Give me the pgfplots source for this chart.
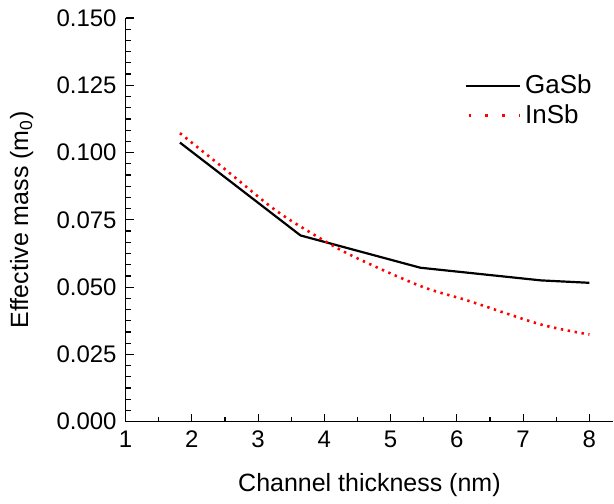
\documentclass[border=0pt]{standalone}
\usepackage{fontspec}
\setmainfont{Liberation Sans}
\usepackage{pgfplots}
\pgfplotsset{compat=1.18}
\begin{document}
\begin{tikzpicture}
\begin{axis}[
  scale only axis,
  width=244pt, height=202pt,
  xmin=1, xmax=8.36, ymin=0, ymax=0.15,
  axis x line*=bottom, axis y line*=left,
  axis line style={line width=0.75pt, -},
  xtick={1,2,...,8},
  ytick={0,0.025,...,0.151},
  minor x tick num=1,
  minor y tick num=5,
  tick align=inside,
  major tick length=4pt, minor tick length=2.5pt,
  tick style={line width=0.6pt, black},
  /pgf/number format/assume math mode=true,
  yticklabel style={xshift=-1pt, /pgf/number format/.cd, fixed, fixed zerofill, precision=3},
  ticklabel style={font=\fontsize{12}{14}\selectfont},
  label style={font=\fontsize{12.5}{15}\selectfont},
  xlabel={Channel thickness (nm)},
  ylabel={Effective mass (m\textsubscript{0})},
  xlabel style={at={(axis description cs:0.5,-0.157)}, anchor=center},
  ylabel style={at={(axis description cs:-0.213,0.5)}, anchor=center},
  xticklabel style={yshift=-1pt},
  legend style={draw=none, fill=none, at={(rel axis cs:0.69,0.875)}, anchor=north west,
    font=\fontsize{13}{15}\selectfont, row sep=0pt, inner sep=1pt},
  legend cell align=left,
]
\addplot[black, line width=1.1pt,
  legend image code/.code={\draw[black, line width=1.2pt] (0cm,0cm) -- (0.95cm,0cm);}]
  coordinates {(1.82,0.1037) (3.64,0.0692) (5.45,0.0572) (7.27,0.0525) (8.0,0.0516)};
\addlegendentry{GaSb}
\addplot[red, line width=1.3pt, dash pattern=on 1.2pt off 2.3pt, smooth,
  legend image code/.code={\draw[red, line width=1.4pt, dash pattern=on 1.4pt off 7pt] (0.05cm,0cm) -- (0.95cm,0cm);}]
  coordinates {(1.82,0.1072) (2.5,0.0938) (3.18,0.0801) (3.64,0.0725) (4.38,0.0621) (5.45,0.0504) (6.19,0.0448) (7.27,0.0361) (8.0,0.0324)};
\addlegendentry{InSb}
\end{axis}
\path (current axis.south west) ++(-62.85pt,-39.5pt) rectangle ([yshift=9pt]current axis.north east);
\end{tikzpicture}
\end{document}
